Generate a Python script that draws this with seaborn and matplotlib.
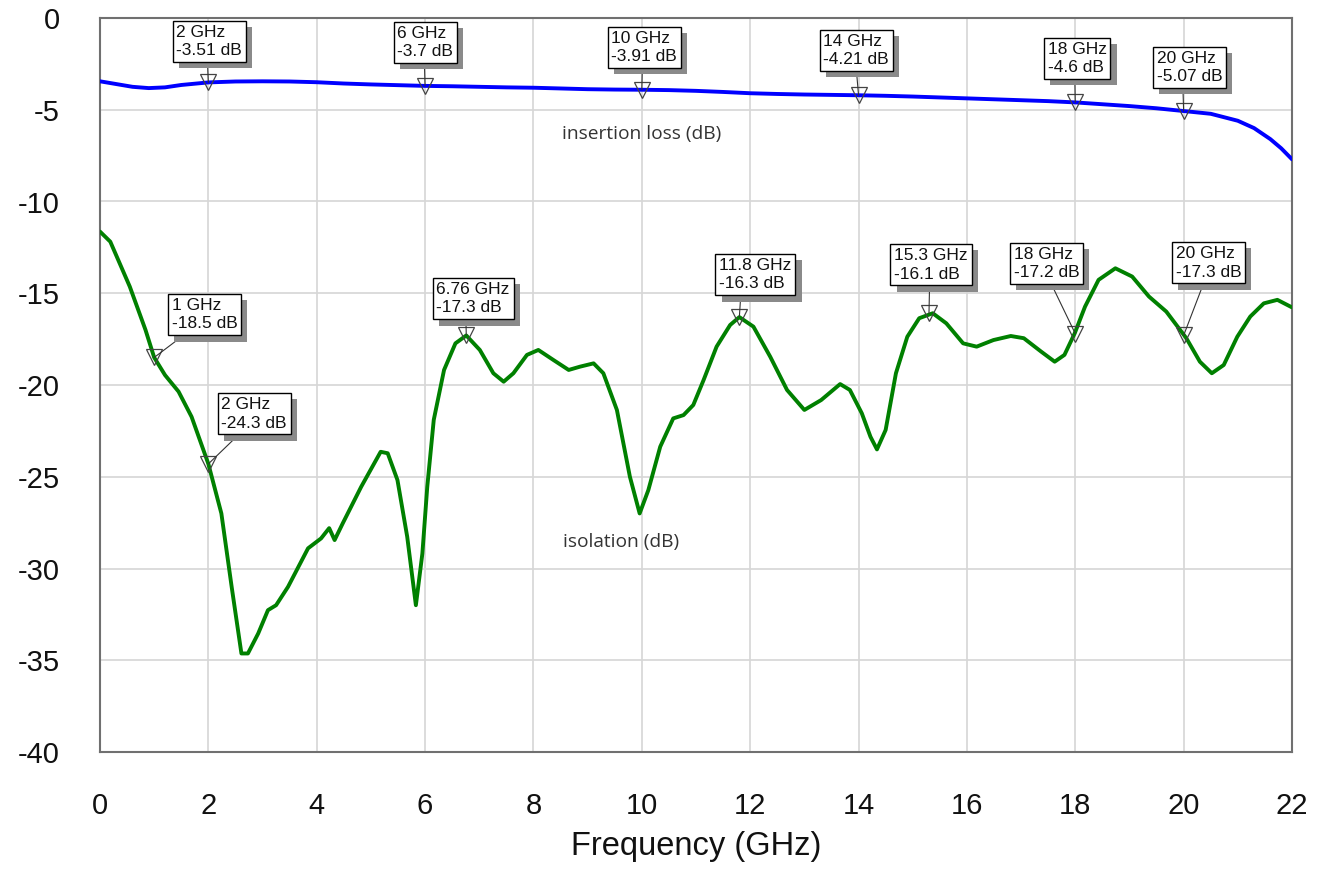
import numpy as np
import pandas as pd
import matplotlib
matplotlib.use("Agg")
import matplotlib.pyplot as plt
import seaborn as sns
from matplotlib import patheffects as pe

# ---------------- data ----------------
freq_il = [0, 0.3, 0.6, 0.9, 1.2, 1.5, 2.0, 2.5, 3.0, 3.5, 4.0, 4.5, 5.0, 5.5, 6.0,
           6.5, 7.0, 7.5, 8.0, 8.5, 9.0, 9.5, 10.0, 10.5, 11.0, 11.5, 12.0, 12.5,
           13.0, 13.5, 14.0, 14.5, 15.0, 15.5, 16.0, 16.5, 17.0, 17.5, 18.0, 18.5,
           19.0, 19.5, 20.0, 20.5, 21.0, 21.3, 21.6, 21.8, 22.0]
il_db = [-3.45, -3.6, -3.75, -3.82, -3.78, -3.65, -3.51, -3.46, -3.45, -3.46, -3.5,
         -3.57, -3.62, -3.66, -3.7, -3.72, -3.75, -3.78, -3.8, -3.84, -3.88, -3.9,
         -3.91, -3.93, -3.97, -4.03, -4.1, -4.14, -4.17, -4.19, -4.21, -4.24, -4.28,
         -4.33, -4.38, -4.43, -4.48, -4.53, -4.6, -4.7, -4.8, -4.92, -5.07, -5.22,
         -5.6, -6.0, -6.6, -7.1, -7.7]

freq_iso = [0.0, 0.19, 0.55, 0.84, 1.0, 1.2, 1.45, 1.69, 2.0, 2.24,
            2.43, 2.61, 2.73, 2.92, 3.10, 3.25, 3.47, 3.84, 4.08, 4.23,
            4.33, 4.48, 4.82, 5.18, 5.31, 5.49, 5.67, 5.83, 5.95, 6.04,
            6.16, 6.35, 6.56, 6.76, 7.01, 7.26, 7.45, 7.63, 7.88, 8.09,
            8.37, 8.65, 8.86, 9.11, 9.29, 9.54, 9.78, 9.96, 10.12, 10.34,
            10.58, 10.77, 10.95, 11.14, 11.38, 11.63, 11.8, 12.06, 12.37, 12.68,
            13.0, 13.31, 13.66, 13.84, 14.06, 14.22, 14.34, 14.5, 14.69, 14.9,
            15.12, 15.37, 15.62, 15.93, 16.18, 16.49, 16.81, 17.05, 17.37, 17.62,
            17.8, 17.99, 18.18, 18.43, 18.74, 19.05, 19.36, 19.68, 20.05, 20.3,
            20.52, 20.74, 20.99, 21.23, 21.48, 21.73, 22.0]
iso_db = [-11.64, -12.19, -14.64, -17.0, -18.5, -19.46, -20.36, -21.73, -24.3, -27.0,
          -31.0, -34.63, -34.63, -33.54, -32.27, -32.0, -31.0, -28.9, -28.36, -27.8,
          -28.45, -27.54, -25.55, -23.64, -23.72, -25.18, -28.27, -32.0, -29.18, -25.55,
          -21.9, -19.18, -17.73, -17.3, -18.09, -19.36, -19.82, -19.36, -18.36, -18.09,
          -18.64, -19.18, -19.0, -18.82, -19.36, -21.36, -25.0, -27.0, -25.73, -23.36,
          -21.82, -21.64, -21.09, -19.73, -17.91, -16.73, -16.3, -16.82, -18.46, -20.27,
          -21.36, -20.82, -19.95, -20.27, -21.54, -22.82, -23.51, -22.45, -19.36, -17.37,
          -16.36, -16.09, -16.64, -17.73, -17.91, -17.55, -17.33, -17.45, -18.18, -18.73,
          -18.36, -17.18, -15.73, -14.27, -13.64, -14.09, -15.18, -16.0, -17.45, -18.73,
          -19.36, -18.91, -17.37, -16.27, -15.55, -15.36, -15.77]

il_mark_f = [2, 6, 10, 14, 18, 20]
il_mark_db = [-3.51, -3.7, -3.91, -4.21, -4.6, -5.07]
iso_mark_f = [1, 2, 6.76, 11.8, 15.3, 18, 20]
iso_mark_db = [-18.5, -24.3, -17.3, -16.3, -16.1, -17.2, -17.3]

x_ticks = list(range(0, 23, 2))
y_ticks = list(range(-40, 1, 5))
trace_names = ["insertion loss (dB)", "isolation (dB)"]

# ---------------- layout (label box anchors, leader attach fraction) ----------------
il_box = [(1.41, -0.37), (5.49, -0.42), (9.44, -0.69), (13.35, -0.86), (17.49, -1.29), (19.5, -1.78)]
il_rel = [0.47, 0.48, 0.47, 0.5, 0.46, 0.4]
iso_box = [(1.32, -15.25), (2.24, -20.65), (6.21, -14.38), (11.43, -13.07),
           (14.66, -12.53), (16.86, -12.47), (19.85, -12.42)]
iso_rel = [0.26, 0.33, 0.4, 0.3, 0.48, 0.55, 0.45]

sns.set_theme(style="white")
plt.rcParams["font.family"] = ["Liberation Sans", "DejaVu Sans"]
plt.rcParams["axes.unicode_minus"] = False

W, H = 1329, 872
fig = plt.figure(figsize=(W / 100, H / 100), dpi=100)
ax = fig.add_axes([100 / W, 1 - 752 / H, 1192 / W, (752 - 18) / H])

df = pd.concat([
    pd.DataFrame({"freq": freq_il, "db": il_db, "trace": trace_names[0]}),
    pd.DataFrame({"freq": freq_iso, "db": iso_db, "trace": trace_names[1]}),
], ignore_index=True)

sns.lineplot(data=df, x="freq", y="db", hue="trace",
             palette={trace_names[0]: "#0000ff", trace_names[1]: "#008000"},
             linewidth=2.8, legend=False, ax=ax, estimator=None, sort=False, zorder=3)

ax.set_xlim(0, 22)
ax.set_ylim(-40, 0)
ax.set_xticks(x_ticks)
ax.set_yticks(y_ticks)
ax.grid(True, color="#d6d6d6", linewidth=1.2, zorder=0)
ax.set_axisbelow(True)
for s in ax.spines.values():
    s.set_color("#707070")
    s.set_linewidth(1.5)
ax.tick_params(axis="both", length=0, pad=29, labelsize=21, colors="#111111")
ax.set_xlabel("Frequency (GHz)", fontsize=23.5, labelpad=8, color="#111111")
ax.set_ylabel("")


def add_markers(fs, vs, boxes, rels):
    ax.plot(fs, vs, linestyle="none", marker="v", ms=11, mfc="none",
            mec="#444444", mew=0.9, zorder=5)
    for f, v, (bx, by), r in zip(fs, vs, boxes, rels):
        ann = ax.annotate(f"{f:g} GHz\n{v:g} dB", xy=(f, v), xytext=(bx, by),
                          textcoords="data", ha="left", va="top", fontsize=12.5,
                          linespacing=1.3, color="#111111",
                          bbox=dict(boxstyle="square,pad=0.22", fc="white",
                                    ec="black", lw=1.0),
                          arrowprops=dict(arrowstyle="-", color="#333333", lw=0.8,
                                          relpos=(r, 0), shrinkA=0, shrinkB=0),
                          zorder=6)
        ann.get_bbox_patch().set_path_effects([
            pe.SimplePatchShadow(offset=(4.5, -4.5), shadow_rgbFace="#8a8a8a", alpha=1.0),
            pe.Normal()])


add_markers(il_mark_f, il_mark_db, il_box, il_rel)
add_markers(iso_mark_f, iso_mark_db, iso_box, iso_rel)

ax.text(10.0, -6.31, trace_names[0], ha="center", va="center", fontsize=13.8,
        family=["Open Sans", "DejaVu Sans"], color="#333333", zorder=4)
ax.text(9.62, -28.56, trace_names[1], ha="center", va="center", fontsize=13.8,
        family=["Open Sans", "DejaVu Sans"], color="#333333", zorder=4)

fig.savefig("out.png", dpi=100, facecolor="white")
